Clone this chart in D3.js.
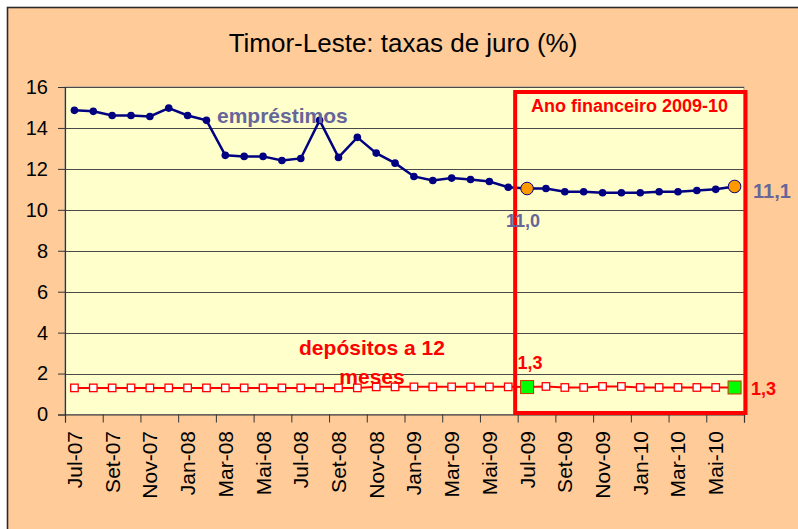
<!DOCTYPE html>
<html>
<head>
<meta charset="utf-8">
<script src="https://cdn.jsdelivr.net/npm/d3@7"></script>
<style>
  html, body { margin: 0; padding: 0; background: #fff; }
  svg { display: block; }
  text { font-family: "Liberation Sans", Arial, sans-serif; }
</style>
</head>
<body>
<script>
// Monthly categories, Jul-07 .. Jun-10
const months = ["Jul-07","Ago-07","Set-07","Out-07","Nov-07","Dez-07",
  "Jan-08","Fev-08","Mar-08","Abr-08","Mai-08","Jun-08",
  "Jul-08","Ago-08","Set-08","Out-08","Nov-08","Dez-08",
  "Jan-09","Fev-09","Mar-09","Abr-09","Mai-09","Jun-09",
  "Jul-09","Ago-09","Set-09","Out-09","Nov-09","Dez-09",
  "Jan-10","Fev-10","Mar-10","Abr-10","Mai-10","Jun-10"];

// Lending rate (%)
const emprestimos = [14.86, 14.81, 14.61, 14.61, 14.56, 14.97,
  14.61, 14.37, 12.66, 12.61, 12.61, 12.41,
  12.51, 14.37, 12.56, 13.54, 12.77, 12.28,
  11.63, 11.43, 11.55, 11.48, 11.38, 11.10,
  11.04, 11.04, 10.88, 10.88, 10.83, 10.83,
  10.83, 10.88, 10.88, 10.94, 11.00, 11.14];

// 12-month deposit rate (%)
const depositos = [1.30, 1.30, 1.30, 1.30, 1.30, 1.30,
  1.30, 1.30, 1.30, 1.30, 1.30, 1.30,
  1.30, 1.30, 1.30, 1.30, 1.35, 1.35,
  1.35, 1.35, 1.35, 1.35, 1.35, 1.35,
  1.34, 1.37, 1.32, 1.32, 1.37, 1.37,
  1.32, 1.32, 1.32, 1.32, 1.32, 1.32];

const yTicks = [0, 2, 4, 6, 8, 10, 12, 14, 16];
const fyStart = "Jul-09", fyEnd = "Jun-10";
const title = "Timor-Leste: taxas de juro (%)";
const fyLabel = "Ano financeiro 2009-10";

const W = 798, H = 529;
const plot = { left: 65, right: 744, top: 87, bottom: 414.5 };

const svg = d3.select("body").append("svg").attr("width", W).attr("height", H);

// chart background
svg.append("rect").attr("x", 7.5).attr("y", 7.5).attr("width", 900).attr("height", 600)
  .attr("fill", "#FFCC99").attr("stroke", "#2b2b2b").attr("stroke-width", 1.6);

svg.append("text").attr("x", 403).attr("y", 52).attr("text-anchor", "middle")
  .attr("font-size", 26).attr("fill", "#000").text(title);

const x = d3.scaleBand().domain(months).range([plot.left, plot.right]).padding(0);
const xc = m => x(m) + x.bandwidth() / 2;
const xIdx = d3.scaleLinear().domain([0, months.length]).range([plot.left, plot.right]);
const y = d3.scaleLinear().domain([0, 16]).range([plot.bottom, plot.top]);

// plot area
svg.append("rect").attr("x", plot.left).attr("y", plot.top)
  .attr("width", plot.right - plot.left).attr("height", plot.bottom - plot.top)
  .attr("fill", "#FFFFCC").attr("stroke", "#9a9a9a").attr("stroke-width", 1);

// horizontal gridlines
svg.append("g").selectAll("line").data(yTicks.filter(d => d > 0)).join("line")
  .attr("x1", plot.left).attr("x2", plot.right)
  .attr("y1", d => Math.round(y(d)) + 0.5).attr("y2", d => Math.round(y(d)) + 0.5)
  .attr("stroke", "#4a4a4a").attr("stroke-width", 1);

// y axis
const gy = svg.append("g").attr("transform", `translate(${plot.left},0)`)
  .call(d3.axisLeft(y).tickValues(yTicks).tickSize(7).tickPadding(10).tickFormat(d3.format("d")));
gy.select(".domain").attr("stroke", "#333").attr("stroke-width", 1.2);
gy.selectAll(".tick line").attr("stroke", "#333");
gy.selectAll(".tick text").attr("font-size", 20).attr("fill", "#000")
  .attr("font-family", "'Liberation Sans', Arial, sans-serif");

// x axis: tick marks every two months
const gx = svg.append("g").attr("transform", `translate(0,${plot.bottom})`)
  .call(d3.axisBottom(xIdx).tickValues(d3.range(0, months.length + 1, 2)).tickSize(8).tickFormat(""));
gx.select(".domain").attr("stroke", "#333").attr("stroke-width", 1.2);
gx.selectAll(".tick line").attr("stroke", "#333");

// x labels (every second month), rotated
svg.append("g").selectAll("text").data(months.filter((m, i) => i % 2 === 0)).join("text")
  .attr("transform", m => `translate(${xc(m) + 7.5},431) rotate(-90)`)
  .attr("text-anchor", "end").attr("font-size", 21).attr("fill", "#000")
  .text(m => m);

// deposit series
const depLine = d3.line().x((d, i) => xc(months[i])).y(d => y(d));
svg.append("path").datum(depositos).attr("d", depLine)
  .attr("fill", "none").attr("stroke", "#FF0000").attr("stroke-width", 2);
const sq = 7.5;
svg.append("g").selectAll("rect").data(depositos).join("rect")
  .attr("x", (d, i) => xc(months[i]) - sq / 2).attr("y", d => y(d) - sq / 2)
  .attr("width", sq).attr("height", sq)
  .attr("fill", "#fff").attr("stroke", "#FF0000").attr("stroke-width", 1.3);

// lending series
const lendLine = d3.line().x((d, i) => xc(months[i])).y(d => y(d));
svg.append("path").datum(emprestimos).attr("d", lendLine)
  .attr("fill", "none").attr("stroke", "#000080").attr("stroke-width", 2.5);
svg.append("g").selectAll("circle").data(emprestimos).join("circle")
  .attr("cx", (d, i) => xc(months[i])).attr("cy", d => y(d)).attr("r", 3.8)
  .attr("fill", "#000080");

// financial year highlight
const iS = months.indexOf(fyStart), iE = months.indexOf(fyEnd);
svg.append("rect")
  .attr("x", x(fyStart) - 2.5).attr("y", y(16) + 5)
  .attr("width", plot.right + 1.5 - (x(fyStart) - 2.5))
  .attr("height", y(0) - 1.5 - (y(16) + 5))
  .attr("fill", "none").attr("stroke", "#FF0000").attr("stroke-width", 4);

svg.append("text").attr("x", 531).attr("y", 112)
  .attr("font-size", 18).attr("font-weight", "bold").attr("fill", "#FF0000").text(fyLabel);

// start / end of the financial year
const fmt = v => d3.format(".1f")(v).replace(".", ",");
[iS, iE].forEach(i => {
  svg.append("rect")
    .attr("x", xc(months[i]) - 6.5).attr("y", y(depositos[i]) - 6.5)
    .attr("width", 13).attr("height", 13)
    .attr("fill", "#00FF00").attr("stroke", "#CC3300").attr("stroke-width", 1);
  svg.append("circle")
    .attr("cx", xc(months[i])).attr("cy", y(emprestimos[i])).attr("r", 6.3)
    .attr("fill", "#FF9900").attr("stroke", "#000080").attr("stroke-width", 1);
});

// series labels
svg.append("text").attr("x", 217).attr("y", 123)
  .attr("font-size", 21).attr("font-weight", "bold").attr("fill", "#666699").text("empréstimos");

svg.append("text").attr("x", 372).attr("y", 355).attr("text-anchor", "middle")
  .attr("font-size", 21).attr("font-weight", "bold").attr("fill", "#FF0000").text("depósitos a 12");
svg.append("text").attr("x", 372).attr("y", 384).attr("text-anchor", "middle")
  .attr("font-size", 21).attr("font-weight", "bold").attr("fill", "#FF0000").text("meses");

// value labels
svg.append("text").attr("x", xc(months[iS]) - 4).attr("y", 227).attr("text-anchor", "middle")
  .attr("font-size", 18).attr("font-weight", "bold").attr("fill", "#666699").text(fmt(emprestimos[iS]));
svg.append("text").attr("x", 753).attr("y", 198)
  .attr("font-size", 20).attr("font-weight", "bold").attr("fill", "#666699").text(fmt(emprestimos[iE]));

svg.append("text").attr("x", xc(months[iS]) + 3).attr("y", 369).attr("text-anchor", "middle")
  .attr("font-size", 18).attr("font-weight", "bold").attr("fill", "#FF0000").text(fmt(depositos[iS]));
svg.append("text").attr("x", 751).attr("y", 395)
  .attr("font-size", 18).attr("font-weight", "bold").attr("fill", "#FF0000").text(fmt(depositos[iE]));
</script>
</body>
</html>
